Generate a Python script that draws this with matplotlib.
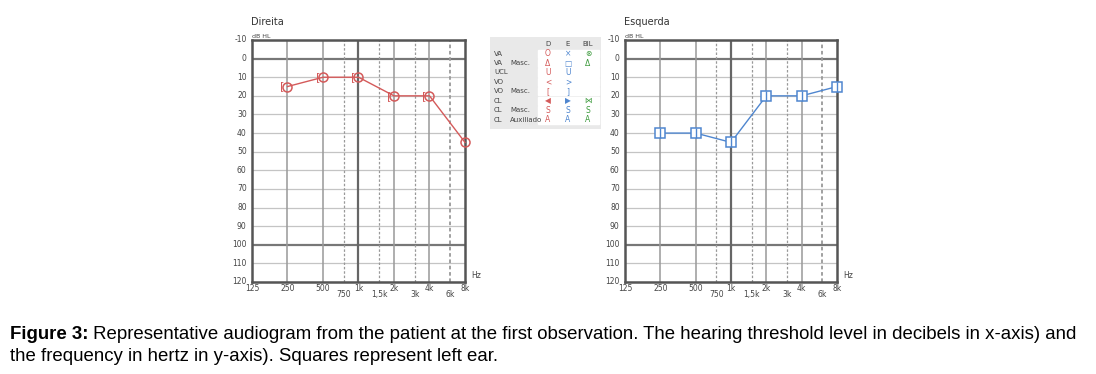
import matplotlib
matplotlib.use("Agg")
import matplotlib.pyplot as plt
from matplotlib.transforms import blended_transform_factory

# audiogram data (Hz, dB HL)
freqs = [250, 500, 1000, 2000, 4000, 8000]
right_db = [15, 10, 10, 20, 20, 45]
left_db = [40, 40, 45, 20, 20, 15]

main_ticks = [125, 250, 500, 1000, 2000, 4000, 8000]
main_labels = ['125', '250', '500', '1k', '2k', '4k', '8k']
mid_ticks = [750, 1500, 3000, 6000]
mid_labels = ['750', '1,5k', '3k', '6k']
db_ticks = list(range(-10, 130, 10))

legend_rows = [('VA', ''), ('VA', 'Masc.'), ('UCL', ''), ('VO', ''), ('VO', 'Masc.'),
               ('CL', ''), ('CL', 'Masc.'), ('CL', 'Auxiliado')]
legend_syms = [('O', '×', '⊗'), ('Δ', '□', 'Δ'), ('U', 'U', ''), ('<', '>', ''),
               ('[', ']', ''), ('◀', '▶', '⋈'), ('S', 'S', 'S'), ('A', 'A', 'A')]

RED = '#d45a5a'
BLUE = '#4f86cf'
GREEN = '#3c9a3c'
W, H = 1096, 374

plt.rcParams['font.family'] = ['DejaVu Sans']
fig = plt.figure(figsize=(W / 100, H / 100), dpi=100)


def px(x0, y0, x1, y1):
    return [x0 / W, 1 - y1 / H, (x1 - x0) / W, (y1 - y0) / H]


def audiogram(rect, title):
    ax = fig.add_axes(rect)
    ax.set_xscale('log', base=2)
    ax.set_xlim(125, 8000)
    ax.set_ylim(120, -10)
    ax.set_xticks([])
    ax.set_yticks([])
    ax.minorticks_off()
    for d in db_ticks:
        strong = d in (0, 100)
        ax.axhline(d, color='#777777' if strong else '#c4c4c4',
                   lw=1.6 if strong else 0.9, zorder=1)
    for f in main_ticks[1:-1]:
        ax.axvline(f, color='#666666' if f == 1000 else '#999999',
                   lw=1.6 if f == 1000 else 1.1, zorder=1)
    for f in mid_ticks:
        ax.axvline(f, color='#999999', lw=1.3 if f == 6000 else 0.9,
                   ls=(0, (2, 1.5)), zorder=1)
    for s in ax.spines.values():
        s.set_color('#555555')
        s.set_linewidth(1.8)
    for d in db_ticks:
        ax.text(-0.025, d, str(d), transform=blended_transform_factory(ax.transAxes, ax.transData),
                ha='right', va='center', fontsize=5.5, color='#444444')
    tr = blended_transform_factory(ax.transData, ax.transAxes)
    for f, lab in zip(main_ticks, main_labels):
        ax.text(f, -0.028, lab, transform=tr, ha='center', va='center', fontsize=5.5, color='#444444')
    for f, lab in zip(mid_ticks, mid_labels):
        ax.text(f, -0.05, lab, transform=tr, ha='center', va='center', fontsize=5.5, color='#444444')
    ax.text(1.03, 0.025, 'Hz', transform=ax.transAxes, ha='left', va='center',
            fontsize=5.5, color='#444444')
    ax.text(0.0, 1.005, 'dB HL', transform=ax.transAxes, ha='left', va='bottom',
            fontsize=4.5, color='#444444')
    ax.text(-0.005, 1.055, title, transform=ax.transAxes, ha='left', va='bottom',
            fontsize=7, color='#333333')
    return ax


ax1 = audiogram(px(252, 40, 465, 282), 'Direita')
ax1.plot(freqs, right_db, color=RED, lw=1.0, marker='o', ms=6.5, mfc='none',
         mec=RED, mew=1.1, zorder=4, clip_on=False)
for f, d in zip(freqs[:-1], right_db[:-1]):
    ax1.annotate('[', (f, d), xytext=(-3.6, 0), textcoords='offset points',
                 ha='center', va='center', fontsize=8, color=RED, zorder=5)

ax2 = audiogram(px(625, 40, 837, 282), 'Esquerda')
ax2.plot(freqs, left_db, color=BLUE, lw=1.0, marker='s', ms=6.5, mfc='white',
         mec=BLUE, mew=1.1, zorder=4, clip_on=False)
ax2.plot(freqs, left_db, ls='none', marker='|', ms=6.5, mec=BLUE, mew=1.0, zorder=5,
         clip_on=False)

# legend table
lg = fig.add_axes(px(490, 37, 601, 129))
lg.set_xlim(490, 601)
lg.set_ylim(129, 37)
lg.axis('off')
lg.add_patch(plt.Rectangle((490, 37), 111, 92, color='#e9e9e9', zorder=0))
row_h = 9.4
y0 = 49
for cx, lab in zip([548, 568, 588], ['D', 'E', 'BIL']):
    lg.text(cx, y0 - 4.5, lab, ha='center', va='center', fontsize=5, color='#444444')
for i, ((a, b), syms) in enumerate(zip(legend_rows, legend_syms)):
    yc = y0 + row_h * i + row_h / 2
    lg.add_patch(plt.Rectangle((538, y0 + row_h * i + 0.6), 61, row_h - 1.2,
                               color='white', zorder=1))
    lg.text(494, yc, a, ha='left', va='center', fontsize=5, color='#444444')
    lg.text(510, yc, b, ha='left', va='center', fontsize=5, color='#444444')
    for cx, s, c in zip([548, 568, 588], syms, [RED, BLUE, GREEN]):
        lg.text(cx, yc, s, ha='center', va='center', fontsize=5.5, color=c, zorder=2)

# caption
fs = 13.4
t1 = fig.text(10 / W, 1 - 339 / H, 'Figure 3:', fontsize=fs, fontweight='bold',
              family='Liberation Sans', va='baseline')
plt.annotate(' Representative audiogram from the patient at the first observation. '
             'The hearing threshold level in decibels in x-axis) and',
             xy=(1, 0), xycoords=t1, va='bottom', ha='left', fontsize=fs,
             family='Liberation Sans', annotation_clip=False)
fig.text(10 / W, 1 - 361 / H, 'the frequency in hertz in y-axis). Squares represent left ear.',
         fontsize=fs, family='Liberation Sans', va='baseline')

fig.savefig('out.png', dpi=100)
